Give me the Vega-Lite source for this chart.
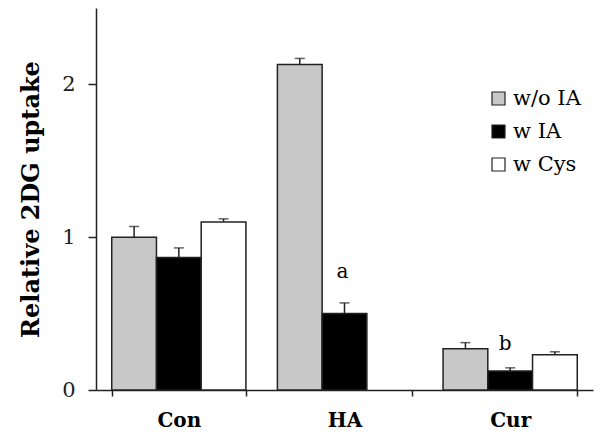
{
  "$schema": "https://vega.github.io/schema/vega-lite/v6.json",
  "width": 497,
  "height": 382,
  "autosize": {"type": "none"},
  "padding": {"left": 96, "top": 8, "right": 9, "bottom": 48},
  "background": "white",
  "config": {"view": {"stroke": null}, "font": "DejaVu Serif"},
  "data": {
    "values": [
      {"group": "Con", "series": "w/o IA", "value": 1.0, "upper": 1.07},
      {"group": "Con", "series": "w IA", "value": 0.867, "upper": 0.93},
      {"group": "Con", "series": "w Cys", "value": 1.1, "upper": 1.12},
      {"group": "HA", "series": "w/o IA", "value": 2.13, "upper": 2.17},
      {"group": "HA", "series": "w IA", "value": 0.5, "upper": 0.57, "note": "a"},
      {"group": "Cur", "series": "w/o IA", "value": 0.27, "upper": 0.31},
      {"group": "Cur", "series": "w IA", "value": 0.125, "upper": 0.145, "note": "b"},
      {"group": "Cur", "series": "w Cys", "value": 0.23, "upper": 0.25}
    ]
  },
  "encoding": {
    "x": {
      "field": "group",
      "type": "nominal",
      "sort": ["Con", "HA", "Cur"],
      "scale": {"paddingInner": 0.19, "paddingOuter": 0.095},
      "axis": {
        "title": null,
        "labelAngle": 0,
        "tickBand": "extent",
        "domainColor": "#222",
        "tickColor": "#222",
        "domainWidth": 1.5,
        "tickWidth": 1.5,
        "tickSize": 6,
        "labelFont": "DejaVu Serif",
        "labelFontWeight": "bold",
        "labelFontSize": 20,
        "labelColor": "black",
        "labelPadding": 14
      }
    },
    "xOffset": {
      "field": "series",
      "type": "nominal",
      "sort": ["w/o IA", "w IA", "w Cys"],
      "scale": {"paddingInner": 0, "paddingOuter": 0}
    }
  },
  "layer": [
    {
      "mark": {"type": "bar", "stroke": "#222", "strokeWidth": 1.5},
      "encoding": {
        "y": {
          "field": "value",
          "type": "quantitative",
          "scale": {"domain": [0, 2.5], "nice": false},
          "axis": {
            "values": [0, 1, 2],
            "format": "d",
            "grid": false,
            "title": "Relative 2DG uptake",
            "titleFont": "DejaVu Serif",
            "titleFontWeight": "bold",
            "titleFontSize": 24,
            "titleColor": "black",
            "titlePadding": 18,
            "domainColor": "#222",
            "domainWidth": 1.5,
            "tickColor": "#222",
            "tickWidth": 1.5,
            "tickSize": 8,
            "labelFont": "DejaVu Serif",
            "labelFontSize": 21,
            "labelColor": "#222",
            "labelPadding": 13
          }
        },
        "fill": {
          "field": "series",
          "type": "nominal",
          "scale": {"domain": ["w/o IA", "w IA", "w Cys"], "range": ["#c8c8c8", "#000000", "#ffffff"]},
          "legend": {
            "title": null,
            "orient": "none",
            "legendX": 392,
            "legendY": 80,
            "padding": 0,
            "symbolType": "square",
            "symbolSize": 169,
            "symbolStrokeColor": "#222",
            "symbolStrokeWidth": 1.2,
            "labelFont": "DejaVu Serif",
            "labelFontSize": 21,
            "labelColor": "black",
            "labelOffset": 4,
            "rowPadding": 11
          }
        }
      }
    },
    {
      "mark": {"type": "rule", "stroke": "#222", "strokeWidth": 1.5},
      "encoding": {
        "y": {"field": "value", "type": "quantitative"},
        "y2": {"field": "upper"}
      }
    },
    {
      "mark": {"type": "tick", "color": "#222", "thickness": 1.5, "size": 10},
      "encoding": {
        "y": {"field": "upper", "type": "quantitative"}
      }
    },
    {
      "transform": [{"filter": "datum.note == 'a'"}],
      "mark": {"type": "text", "fontSize": 20, "font": "DejaVu Serif", "color": "black", "baseline": "middle", "dy": -31, "dx": -2},
      "encoding": {
        "y": {"field": "upper", "type": "quantitative"},
        "text": {"field": "note"}
      }
    },
    {
      "transform": [{"filter": "datum.note == 'b'"}],
      "mark": {"type": "text", "fontSize": 20, "font": "DejaVu Serif", "color": "black", "baseline": "middle", "dy": -24, "dx": -5},
      "encoding": {
        "y": {"field": "upper", "type": "quantitative"},
        "text": {"field": "note"}
      }
    }
  ]
}
